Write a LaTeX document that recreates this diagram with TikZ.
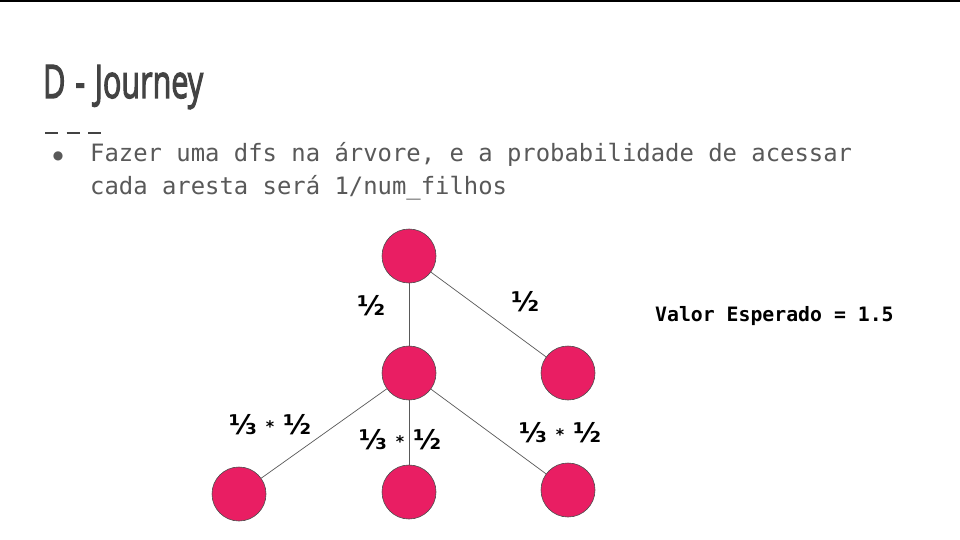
\documentclass[tikz,border=0pt]{standalone}
\usepackage{fontspec}
\setmainfont{DejaVu Sans}
\newfontfamily\titlefont{Open Sans}[RawFeature={embolden=3}]
\newfontfamily\monofont{DejaVu Sans Mono}
\newfontfamily\fracfont{DejaVu Sans}
\definecolor{pinkc}{RGB}{233,30,99}
\definecolor{titlec}{RGB}{67,67,67}
\definecolor{bodyc}{RGB}{89,89,89}
\newcommand{\fstar}{\kern9pt\raisebox{2pt}{\fontsize{16}{16}\selectfont *}\kern9pt}
\begin{document}
\begin{tikzpicture}[x=1pt,y=1pt,
  vert/.style={circle,draw=black!70,line width=0.6pt,fill=pinkc,minimum size=54pt,inner sep=0pt},
  edge/.style={draw=black!65,line width=0.7pt},
  frac/.style={font=\fracfont\bfseries\fontsize{27}{27}\selectfont,text=black,inner sep=0pt}]
\useasboundingbox (0,0) rectangle (960,-540);
\fill[white] (0,0) rectangle (960,-540);
\fill[black] (0,0) rectangle (960,-2);
\node[anchor=base west,inner sep=0pt,text=titlec] (title) at (43,-98)
  {\resizebox{160pt}{33pt}{\titlefont D\hspace{0.32em}-\hspace{0.32em}Journey}};
\coordinate (d0) at (45,-133);
\coordinate (d1) at (105,-133);
\draw[titlec,line width=2pt,dash pattern=on 13pt off 8.5pt] (d0) -- (d1);
\node[anchor=base,inner sep=0pt,text=bodyc,font=\fracfont\fontsize{12}{12}\selectfont] (bul) at (58,-160) {●};
\node[anchor=base west,inner sep=0pt,text=bodyc,font=\monofont\fontsize{23.88}{23.88}\selectfont] (l1) at (90,-162) {Fazer uma dfs na árvore, e a probabilidade de acessar};
\node[anchor=base west,inner sep=0pt,text=bodyc,font=\monofont\fontsize{23.88}{23.88}\selectfont] (l2) at (90,-194) {cada aresta será 1/num\_filhos};
\node[vert] (r) at (409,-256) {};
\node[vert] (m) at (409,-373) {};
\node[vert] (rr) at (568,-373) {};
\node[vert] (bl) at (239,-494) {};
\node[vert] (bm) at (409,-492) {};
\node[vert] (br) at (568,-490) {};
\draw[edge] (r) -- (m);
\draw[edge] (r) -- (rr);
\draw[edge] (m) -- (bl);
\draw[edge] (m) -- (bm);
\draw[edge] (m) -- (br);
\node[frac] (f1) at (371,-306) {½};
\node[frac] (f2) at (525,-302) {½};
\node[frac] (f3) at (270,-425) {⅓\fstar½};
\node[frac] (f4) at (400,-440) {⅓\fstar½};
\node[frac] (f5) at (560,-433) {⅓\fstar½};
\node[anchor=base west,inner sep=0pt,font=\monofont\bfseries\fontsize{19.8}{19.8}\selectfont] (ve) at (655,-321) {Valor Esperado = 1.5};
\end{tikzpicture}
\end{document}
